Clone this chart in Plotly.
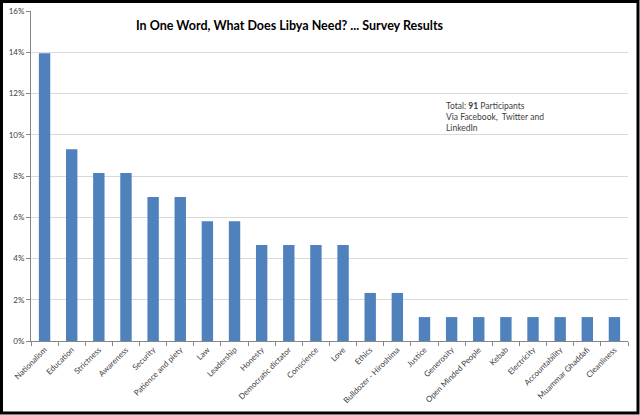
import plotly.graph_objects as go

categories = ["Nationalism", "Education", "Strictness", "Awareness", "Security",
              "Patience and piety", "Law", "Leadership", "Honesty", "Democratic dictator",
              "Conscience", "Love", "Ethics", "Bulldozer - Hiroshima", "Justice",
              "Generosity", "Open Minded People", "Kebab", "Electricity", "Accountability",
              "Muammar Ghaddafi", "Cleanliness"]
values = [0.1395, 0.0930, 0.0814, 0.0814, 0.0698, 0.0698, 0.0581, 0.0581, 0.0465, 0.0465,
          0.0465, 0.0465, 0.0233, 0.0233, 0.0116, 0.0116, 0.0116, 0.0116, 0.0116, 0.0116,
          0.0116, 0.0116]
y_ticks = [0, 0.02, 0.04, 0.06, 0.08, 0.10, 0.12, 0.14, 0.16]
y_tick_labels = ["0%", "2%", "4%", "6%", "8%", "10%", "12%", "14%", "16%"]

W, H = 640, 415
L, R, T, B = 31, 12, 11, 74
pw, ph = W - L - R, H - T - B

def px_x(p):
    return (p - L) / pw

def px_y(p):
    return (H - B - p) / ph

fig = go.Figure(go.Bar(x=categories, y=values, marker=dict(color="#4f81bd", line=dict(width=0)),
                       width=0.42))

fig.update_layout(
    width=W, height=H,
    margin=dict(l=L, r=R, t=T, b=B, autoexpand=False),
    paper_bgcolor="white", plot_bgcolor="white",
    showlegend=False,
    font=dict(family="Lato, Open Sans, sans-serif", color="#404040"),
    xaxis=dict(type="category", tickangle=-45, tickfont=dict(size=8, color="#404040"),
               showline=True, linecolor="#868686", linewidth=1, automargin=False,
               ticks="outside", ticklen=4, tickcolor="#868686", tickson="boundaries",
               showgrid=False, range=[-0.5, len(categories) - 0.5]),
    yaxis=dict(range=[0, 0.16], tickvals=y_ticks, ticktext=y_tick_labels,
               tickfont=dict(size=8, color="#404040"), automargin=False,
               showline=True, linecolor="#868686", linewidth=1,
               ticks="outside", ticklen=4, tickcolor="#868686",
               showgrid=True, gridcolor="#d9d9d9", gridwidth=1, zeroline=False),
    annotations=[
        dict(text="<b>In One Word, What Does Libya Need? ... Survey Results</b>",
             xref="paper", yref="paper", x=px_x(290), y=px_y(26), xanchor="center", yanchor="middle",
             showarrow=False, font=dict(size=12.5, color="black", family="Lato, Open Sans, sans-serif")),
        dict(text="Total: <b>91</b> Participants<br>Via Facebook,  Twitter and<br>LinkedIn",
             xref="paper", yref="paper", x=px_x(444), y=px_y(99), xanchor="left", yanchor="top",
             align="left", showarrow=False,
             font=dict(size=8.5, color="#404040", family="Lato, Open Sans, sans-serif")),
    ],
    shapes=[
        dict(type="rect", xref="paper", yref="paper",
             x0=px_x(1.5), x1=px_x(638), y0=px_y(413), y1=px_y(1.5),
             line=dict(color="black", width=3), fillcolor="rgba(0,0,0,0)", layer="above"),
    ],
)

fig.write_html("out.html", config={"displayModeBar": False},
               post_script="document.body.style.margin='0';document.body.style.overflow='hidden';")
